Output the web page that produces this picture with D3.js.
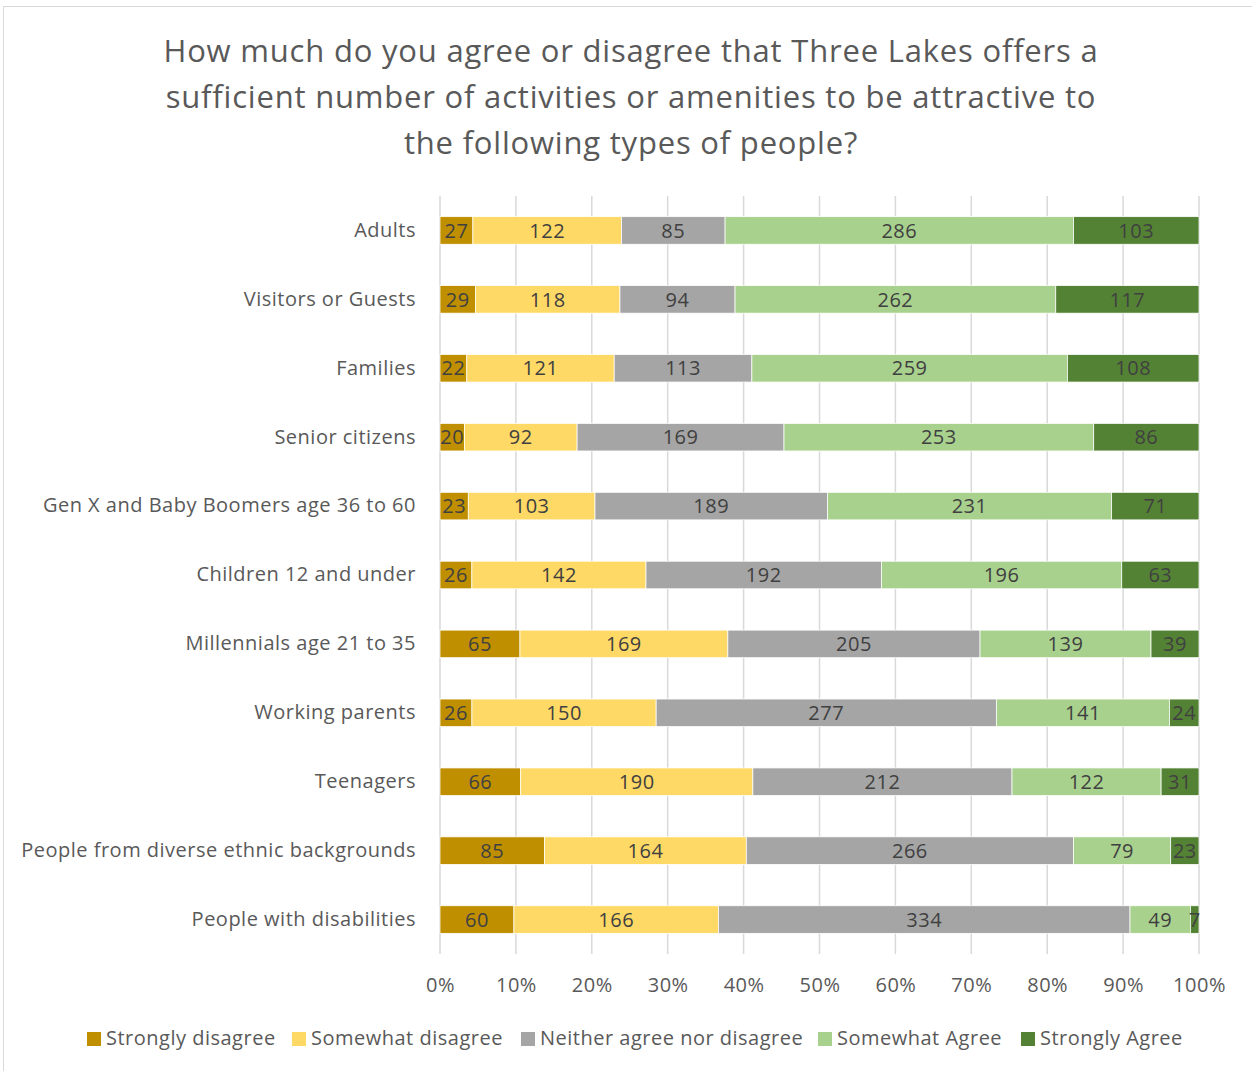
<!DOCTYPE html>
<html><head><meta charset="utf-8">
<script src="https://cdn.jsdelivr.net/npm/d3@7"></script>
<style>
html,body{margin:0;padding:0;background:#fff;}
svg{display:block;}
</style></head>
<body>
<script>
const categories = ["Adults","Visitors or Guests","Families","Senior citizens","Gen X and Baby Boomers age 36 to 60","Children 12 and under","Millennials age 21 to 35","Working parents","Teenagers","People from diverse ethnic backgrounds","People with disabilities"];
const seriesNames = ["Strongly disagree","Somewhat disagree","Neither agree nor disagree","Somewhat Agree","Strongly Agree"];
const stronglyDisagree = [27,29,22,20,23,26,65,26,66,85,60];
const somewhatDisagree = [122,118,121,92,103,142,169,150,190,164,166];
const neither = [85,94,113,169,189,192,205,277,212,266,334];
const somewhatAgree = [286,262,259,253,231,196,139,141,122,79,49];
const stronglyAgree = [103,117,108,86,71,63,39,24,31,23,7];
const tickLabels = ["0%","10%","20%","30%","40%","50%","60%","70%","80%","90%","100%"];
const colors = ["#BF8F00","#FFD966","#A5A5A5","#A9D18E","#548235"];
const titleLines = ["How much do you agree or disagree that Three Lakes offers a","sufficient number of activities or amenities to be attractive to","the following types of people?"];

const W=1252,H=1071;
const font="'Open Sans', Lato, sans-serif";
const fs=20;
const ls="0.5px";
const textColor="#595959";
const svg=d3.select("body").append("svg").attr("width",W).attr("height",H);

svg.append("rect").attr("x",3.5).attr("y",6.5).attr("width",W+10).attr("height",H+10)
  .attr("fill","#fff").attr("stroke","#d9d9d9").attr("stroke-width",1);

const seriesArr=[stronglyDisagree,somewhatDisagree,neither,somewhatAgree,stronglyAgree];
const rows=categories.map((c,i)=>{
  const o={cat:c};
  seriesArr.forEach((s,j)=>o["s"+j]=s[i]);
  o.total=seriesArr.reduce((a,s)=>a+s[i],0);
  return o;
});
const keys=seriesArr.map((s,j)=>"s"+j);
const norm=rows.map(r=>{const o={cat:r.cat};keys.forEach(k=>o[k]=r[k]/r.total);o.raw=r;return o;});
const stack=d3.stack().keys(keys)(norm);

const x=d3.scaleLinear().domain([0,1]).range([440,1199]);
const y=d3.scaleBand().domain(categories).range([196,954]).paddingInner(0.6).paddingOuter(0.3);

// gridlines
const g=svg.append("g");
g.selectAll("line.grid").data(d3.range(0,1.0001,0.1)).join("line")
  .attr("x1",d=>x(d)).attr("x2",d=>x(d)).attr("y1",196).attr("y2",954)
  .attr("stroke","#d9d9d9").attr("stroke-width",1.5);

// bars
stack.forEach((layer,j)=>{
  const lg=g.append("g");
  lg.selectAll("rect").data(layer).join("rect")
    .attr("x",d=>x(d[0])).attr("width",d=>x(d[1])-x(d[0]))
    .attr("y",d=>y(d.data.cat)).attr("height",y.bandwidth())
    .attr("fill",colors[j]).attr("stroke","#fff").attr("stroke-width",0.75);
  lg.selectAll("text").data(layer).join("text")
    .attr("x",d=>(x(d[0])+x(d[1]))/2).attr("y",d=>y(d.data.cat)+y.bandwidth()/2)
    .attr("dy","0.36em").attr("text-anchor","middle")
    .attr("font-family",font).attr("font-size",fs).attr("letter-spacing",ls).attr("fill","#404040")
    .text(d=>d.data.raw[keys[j]]);
});

// category labels
const yAxis=d3.axisLeft(y).tickSize(0).tickPadding(0);
const ya=svg.append("g").attr("transform","translate(416,0)").call(yAxis);
ya.select(".domain").remove();
ya.selectAll("text").attr("font-family",font).attr("font-size",fs).attr("letter-spacing",ls).attr("fill",textColor).attr("dy","0.32em");

// x axis
const xAxis=d3.axisBottom(x).tickValues(d3.range(0,1.0001,0.1)).tickFormat((d,i)=>tickLabels[i]).tickSize(0).tickPadding(0);
const xa=svg.append("g").attr("transform","translate(0,992)").call(xAxis);
xa.select(".domain").remove();
xa.selectAll("text").attr("font-family",font).attr("font-size",fs).attr("letter-spacing",ls).attr("fill",textColor).attr("dy","0");

// title
svg.append("g").selectAll("text").data(titleLines).join("text")
  .attr("x",631).attr("y",(d,i)=>62+i*46).attr("text-anchor","middle")
  .attr("font-family",font).attr("font-size",31).attr("letter-spacing","0.8px").attr("fill",textColor).text(d=>d);

// legend
const leg=svg.append("g");
const items=leg.selectAll("g").data(seriesNames).join("g");
items.each(function(d,i){
  const it=d3.select(this);
  it.append("rect").attr("x",0).attr("y",-13).attr("width",14).attr("height",14).attr("fill",colors[i]);
  it.append("text").attr("x",19).attr("y",0).attr("font-family",font).attr("font-size",fs).attr("letter-spacing",ls).attr("fill",textColor).text(d);
});
const xs=[87,292,521,818,1021];
items.attr("transform",(d,i)=>`translate(${xs[i]},1045)`);
</script>
</body></html>
